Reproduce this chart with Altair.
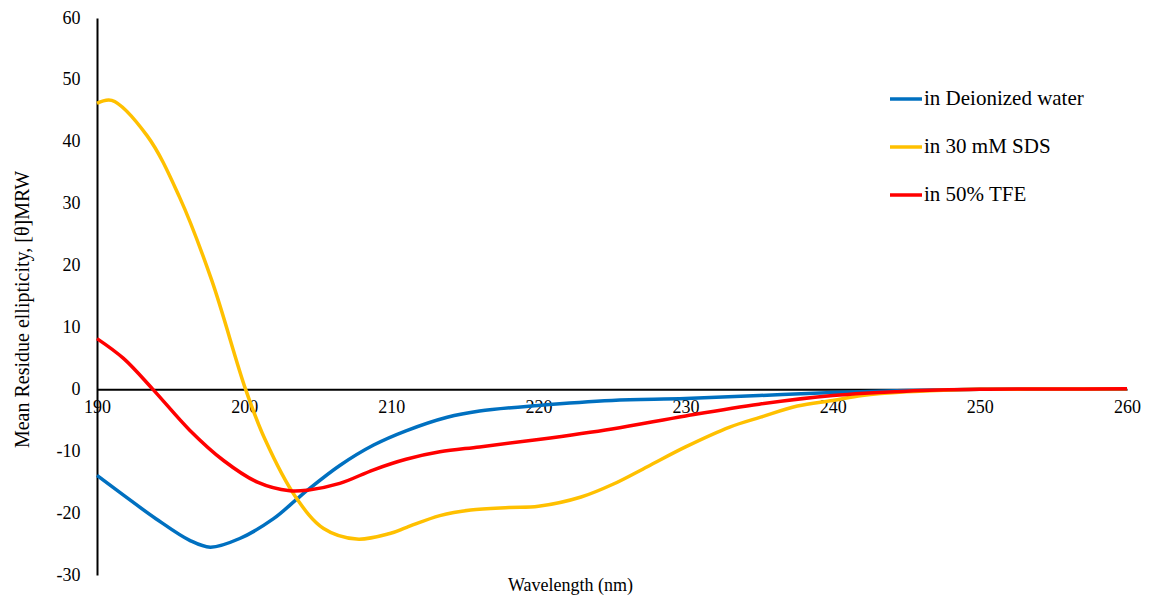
import altair as alt
import pandas as pd

# CD spectra: wavelength (nm) vs mean residue ellipticity
water_wl = [190, 191.8, 194, 196.3, 197.7, 199.7, 202, 203.5, 204.3, 206.5, 208.8, 211, 213.8,
            216, 220, 225, 230, 235, 240, 245, 250, 255, 260]
water_val = [-13.9, -17.1, -20.9, -24.4, -25.5, -24.1, -20.9, -17.9, -16.3, -12.3, -9.0, -6.7, -4.5,
             -3.5, -2.6, -1.8, -1.5, -1.0, -0.5, -0.2, 0.0, 0.0, 0.05]

sds_wl = [190, 191, 193.4, 195.6, 197.8, 200.1, 201.4, 203.5, 205.4, 207.65, 209.9,
          211.05, 213.3, 215.4, 218, 220, 222.9, 225.1, 227.4, 230, 233, 235.1, 237.6, 240, 242,
          245, 248, 250, 255, 260]
sds_val = [46.2, 46.7, 41.0, 31.1, 17.6, 0.0, -8.0, -17.4, -22.5, -24.2, -23.3,
           -22.3, -20.4, -19.5, -19.1, -18.9, -17.4, -15.3, -12.5, -9.3, -6.1, -4.5, -2.7, -1.8, -1.0,
           -0.4, -0.1, 0.0, 0.05, 0.1]

tfe_wl = [190, 191.8, 193.8, 196.3, 198.6, 200.9, 203.1, 204.3, 206.5, 208.8, 211,
          213.3, 216, 220, 225, 230, 235, 240, 245, 250, 255, 260]
tfe_val = [8.2, 5.0, 0.0, -6.6, -11.5, -15.0, -16.4, -16.3, -15.2, -13.0, -11.3,
           -10.1, -9.3, -8.1, -6.4, -4.3, -2.4, -1.0, -0.3, 0.0, 0.05, 0.1]

series_names = ["in Deionized water", "in 30 mM SDS", "in 50% TFE"]
series_colors = ["#0070C0", "#FFC000", "#FF0000"]
x_ticks = [190, 200, 210, 220, 230, 240, 250, 260]
y_ticks = [-30, -20, -10, 0, 10, 20, 30, 40, 50, 60]

frames = []
for name, wl, val in zip(series_names, [water_wl, sds_wl, tfe_wl], [water_val, sds_val, tfe_val]):
    frames.append(pd.DataFrame({"wl": wl, "val": val, "series": name}))
df = pd.concat(frames, ignore_index=True)

W, H = 1030, 557
FONT = "Liberation Serif"
Y_MIN, Y_MAX = -30, 60
zero_offset = -H * (0 - Y_MIN) / (Y_MAX - Y_MIN)

# plain hyphen for negative tick labels
plain_label = "'' + datum.value"

x_enc = alt.X(
    "wl:Q",
    scale=alt.Scale(domain=[190, 260], nice=False),
    axis=alt.Axis(
        values=x_ticks, title="Wavelength (nm)", offset=zero_offset,
        ticks=False, grid=False, domainColor="black", domainWidth=2,
        labelPadding=9, labelFontSize=18, labelFont=FONT, labelColor="black",
        labelFlush=False, labelExpr=plain_label,
        titleFont=FONT, titleFontSize=18, titleFontWeight="normal", titleColor="black",
        titleX=473, titleY=-zero_offset + 10, titleAlign="center", titleBaseline="middle",
    ),
)
y_enc = alt.Y(
    "val:Q",
    scale=alt.Scale(domain=[Y_MIN, Y_MAX], nice=False),
    axis=alt.Axis(
        values=y_ticks, title="Mean Residue ellipticity,  [θ]MRW",
        ticks=False, grid=False, domainColor="black", domainWidth=2,
        labelPadding=17, labelFontSize=18, labelFont=FONT, labelColor="black",
        labelFlush=False, labelExpr=plain_label,
        titleFont=FONT, titleFontSize=20, titleFontWeight="normal", titleColor="black",
        titleX=-75, titleY=291, titleAngle=270, titleAlign="center", titleBaseline="middle",
    ),
)
color_enc = alt.Color(
    "series:N",
    scale=alt.Scale(domain=series_names, range=series_colors),
    legend=alt.Legend(
        title=None, orient="none", legendX=791, legendY=63,
        symbolType="stroke", symbolSize=1024, symbolStrokeWidth=3.5,
        labelFont=FONT, labelFontSize=21, labelColor="black", labelOffset=0,
        rowPadding=20, padding=0, labelLimit=300,
    ),
)

layers = []
for name in series_names:
    layers.append(
        alt.Chart(df)
        .transform_filter(alt.datum.series == name)
        .mark_line(strokeWidth=3.5, interpolate="catmull-rom")
        .encode(x=x_enc, y=y_enc, color=color_enc)
    )

chart = (
    alt.layer(*layers)
    .properties(
        width=W, height=H,
        autosize=alt.AutoSizeParams(type="none"),
        padding={"left": 97, "top": 18, "right": 27, "bottom": 31},
        background="white",
    )
    .configure(font=FONT)
    .configure_view(stroke=None)
)

chart.save("out.html", embed_options={"renderer": "svg", "actions": False})
